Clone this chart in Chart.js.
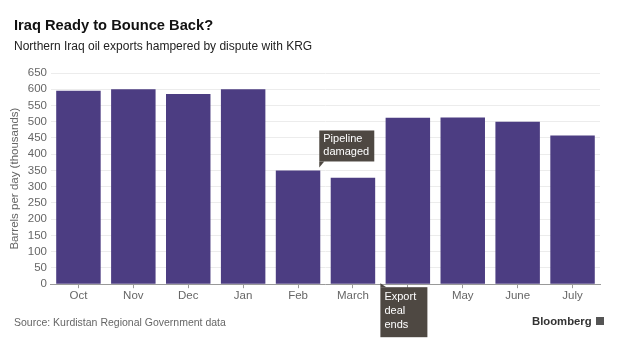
<!DOCTYPE html>
<html>
<head>
<meta charset="utf-8">
<script src="https://cdn.jsdelivr.net/npm/chart.js@4.4.1/dist/chart.umd.min.js"></script>
<style>
  body { margin: 0; background: #fff; font-family: "Liberation Sans", Arial, sans-serif; }
  #wrap { position: relative; width: 620px; height: 344px; }
  #myChart { position: absolute; left: 0; top: 0; }
  .title { position: absolute; left: 14px; top: 17px; font-size: 14.7px; font-weight: bold; color: #111; }
  .sub { position: absolute; left: 14px; top: 39px; font-size: 12px; color: #222; }
  .source { position: absolute; left: 14px; top: 316px; font-size: 10.5px; color: #666; }
  .brand { position: absolute; left: 532px; top: 315px; font-size: 11.3px; font-weight: bold; color: #333; }
  .logo { position: absolute; left: 596px; top: 317px; width: 8px; height: 8px; background: #555; }
</style>
</head>
<body>
<div id="wrap">
  <canvas id="myChart" width="620" height="344"></canvas>
  <div class="title">Iraq Ready to Bounce Back?</div>
  <div class="sub">Northern Iraq oil exports hampered by dispute with KRG</div>
  <div class="source">Source: Kurdistan Regional Government data</div>
  <div class="brand">Bloomberg</div>
  <div class="logo"></div>
</div>
<script>
        // setup
        const labels = ['Oct', 'Nov', 'Dec', 'Jan', 'Feb', 'March', 'April', 'May', 'June', 'July'];
        const exports = [595, 600, 585, 600, 350, 328, 512, 513, 500, 458];
        const yTicks = [0, 650, 50]; // min, max, step
        const notes = [
            { at: 4, lines: ['Pipeline', 'damaged'] },
            { at: 5, lines: ['Export', 'deal', 'ends'] },
        ];

        const barColor = 'rgb(76, 61, 130)';
        const noteColor = 'rgb(78, 72, 66)';
        const font = '"Liberation Sans", Arial, sans-serif';

        // callout boxes, placed from the bar elements / scales
        const callouts = {
            id: 'callouts',
            afterDraw(chart) {
                const ctx = chart.ctx;
                const meta = chart.getDatasetMeta(0);
                const x = chart.scales.x;
                const y = chart.scales.y;
                ctx.save();
                ctx.font = '11px ' + font;
                ctx.textBaseline = 'top';

                // Pipeline damaged: sits right of Feb bar, above its top
                let n = notes[0];
                let bar = meta.data[n.at];
                let left = bar.x + bar.width / 2 - 1;
                let bottom = y.getPixelForValue(exports[n.at]) - 9;
                let w = 55, h = 31;
                ctx.fillStyle = noteColor;
                ctx.fillRect(left, bottom - h, w, h);
                ctx.beginPath();
                ctx.moveTo(left, bottom);
                ctx.lineTo(left + 5, bottom);
                ctx.lineTo(left, bottom + 6);
                ctx.fill();
                ctx.fillStyle = '#fff';
                n.lines.forEach((t, i) => ctx.fillText(t, left + 4, bottom - h + 3 + i * 13));

                // Export deal ends: below axis at March/April boundary
                n = notes[1];
                left = (x.getPixelForValue(n.at) + x.getPixelForValue(n.at + 1)) / 2;
                let top = y.getPixelForValue(0) + 3;
                w = 47; h = 50;
                ctx.fillStyle = noteColor;
                ctx.fillRect(left, top, w, h);
                ctx.beginPath();
                ctx.moveTo(left, top);
                ctx.lineTo(left + 6, top);
                ctx.lineTo(left, top - 4);
                ctx.fill();
                ctx.fillStyle = '#fff';
                n.lines.forEach((t, i) => ctx.fillText(t, left + 4, top + 4 + i * 14));
                ctx.restore();
            }
        };

        const data = {
            labels: labels,
            datasets: [{
                data: exports,
                backgroundColor: barColor,
                borderWidth: 0,
                categoryPercentage: 1,
                barPercentage: 0.81,
            }]
        };

        // config
        const config = {
            type: 'bar',
            data,
            options: {
                responsive: false,
                animation: false,
                layout: { padding: { top: 73, left: 6, right: 20, bottom: 40 } },
                plugins: {
                    legend: { display: false },
                    tooltip: { enabled: false }
                },
                scales: {
                    x: {
                        grid: { display: true, drawOnChartArea: false, offset: false, tickLength: 4, color: '#999' },
                        border: { display: true, color: '#999' },
                        ticks: { color: '#666', font: { size: 11.5, family: font }, padding: 1 }
                    },
                    y: {
                        min: yTicks[0],
                        max: yTicks[1],
                        ticks: { stepSize: yTicks[2], autoSkip: false, color: '#666', font: { size: 11.5, family: font }, padding: 4 },
                        grid: { color: '#ececec', drawTicks: false },
                        border: { display: false },
                        title: { display: true, text: 'Barrels per day (thousands)', color: '#666', font: { size: 11.5, family: font }, padding: 2 }
                    }
                }
            },
            plugins: [callouts]
        };

        var myChart = new Chart(
            document.getElementById('myChart'),
            config
        );
</script>
</body>
</html>
